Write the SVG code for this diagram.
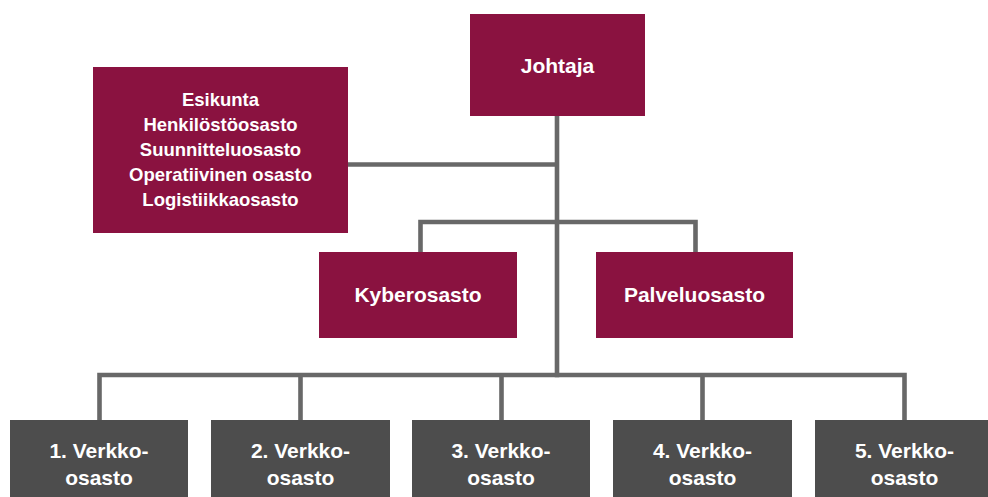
<svg xmlns="http://www.w3.org/2000/svg" width="988" height="497" viewBox="0 0 988 497">
<style>
.m{fill:#8A1240}
.g{fill:#4D4D4D}
.t{fill:#fff;font-family:"Liberation Sans",Arial,sans-serif;font-weight:bold;text-anchor:middle}
.c{fill:none;stroke:#686868;stroke-width:4.6;stroke-linejoin:miter;stroke-linecap:butt}
</style>
<rect width="988" height="497" fill="#fff"/>
<g id="connectors">
<path class="c" d="M557 116V377.3"/>
<path class="c" d="M348 164.5H557"/>
<path class="c" d="M420.5 252V222H695.5V252"/>
<path class="c" d="M99.5 420V375H904.5V420"/>
<path class="c" d="M300.5 375V420M501.5 375V420M702.5 375V420"/>
</g>
<g id="johtaja"><rect class="m" x="470" y="14" width="175" height="102"/><text class="t" x="557.5" y="73" font-size="21">Johtaja</text></g>
<g id="esikunta"><rect class="m" x="93" y="67" width="255" height="166"/>
<text class="t" font-size="18.5"><tspan x="220.5" y="106">Esikunta</tspan><tspan x="220.5" y="131">Henkilöstöosasto</tspan><tspan x="220.5" y="156">Suunnitteluosasto</tspan><tspan x="220.5" y="181">Operatiivinen osasto</tspan><tspan x="220.5" y="206">Logistiikkaosasto</tspan></text></g>
<g id="kyber"><rect class="m" x="319" y="252" width="198" height="86"/><text class="t" x="418" y="302" font-size="21">Kyberosasto</text></g>
<g id="palvelu"><rect class="m" x="596" y="252" width="197" height="86"/><text class="t" x="694.5" y="302" font-size="21">Palveluosasto</text></g>
<g id="v1"><rect class="g" x="10" y="420" width="178" height="80"/><text class="t" font-size="21"><tspan x="99" y="458">1. Verkko-</tspan><tspan x="99" y="485">osasto</tspan></text></g>
<g id="v2"><rect class="g" x="211" y="420" width="179" height="80"/><text class="t" font-size="21"><tspan x="300.5" y="458">2. Verkko-</tspan><tspan x="300.5" y="485">osasto</tspan></text></g>
<g id="v3"><rect class="g" x="412" y="420" width="178" height="80"/><text class="t" font-size="21"><tspan x="501" y="458">3. Verkko-</tspan><tspan x="501" y="485">osasto</tspan></text></g>
<g id="v4"><rect class="g" x="613" y="420" width="179" height="80"/><text class="t" font-size="21"><tspan x="702.5" y="458">4. Verkko-</tspan><tspan x="702.5" y="485">osasto</tspan></text></g>
<g id="v5"><rect class="g" x="815" y="420" width="179" height="80"/><text class="t" font-size="21"><tspan x="904.5" y="458">5. Verkko-</tspan><tspan x="904.5" y="485">osasto</tspan></text></g>
</svg>
